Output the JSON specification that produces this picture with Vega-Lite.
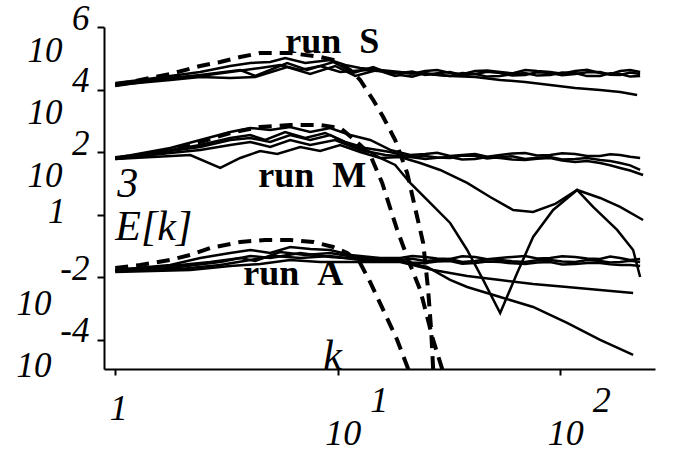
{
  "$schema": "https://vega.github.io/schema/vega-lite/v6.json",
  "width": 551,
  "height": 342,
  "autosize": {"type": "none"},
  "padding": {"left": 104, "top": 27, "right": 18, "bottom": 82},
  "background": "white",
  "config": {
    "view": {"stroke": null},
    "axis": {"grid": false, "labelFont": "Liberation Serif", "labelFontStyle": "italic", "labelColor": "black", "domainColor": "black", "tickColor": "black", "labelOverlap": false, "labelFlush": false, "labelBound": false}
  },
  "datasets": {
    "solid": [
      {"s":"S1","k":1.0,"E":1.62e4},{"s":"S1","k":1.295,"E":2.03e4},{"s":"S1","k":1.767,"E":2.72e4},{"s":"S1","k":2.41,"E":3.65e4},{"s":"S1","k":3.287,"E":5.68e4},{"s":"S1","k":4.044,"E":7.08e4},{"s":"S1","k":4.973,"E":7.62e4},{"s":"S1","k":5.808,"E":1.022e5},{"s":"S1","k":7.143,"E":7.08e4},{"s":"S1","k":9.254,"E":8.82e4},{"s":"S1","k":10.81,"E":6.11e4},{"s":"S1","k":12.62,"E":4.9e4},{"s":"S1","k":15.52,"E":4.23e4},{"s":"S1","k":19.1,"E":3.65e4},{"s":"S1","k":24.74,"E":3.93e4},{"s":"S1","k":32.03,"E":3.39e4},{"s":"S1","k":41.5,"E":3.93e4},{"s":"S1","k":53.75,"E":3.65e4},{"s":"S1","k":69.6,"E":4.23e4},{"s":"S1","k":90.2,"E":3.65e4},{"s":"S1","k":116.8,"E":3.93e4},{"s":"S1","k":151.3,"E":3.39e4},{"s":"S1","k":186.1,"E":3.93e4},{"s":"S1","k":228.9,"E":3.65e4},
      {"s":"S1","k":21.62,"E":3.2e4},{"s":"S1","k":28.0,"E":4.2e4},{"s":"S1","k":36.27,"E":3.1e4},{"s":"S1","k":46.98,"E":4.1e4},{"s":"S1","k":60.85,"E":3.3e4},{"s":"S1","k":78.8,"E":3.9e4},{"s":"S1","k":102.1,"E":3.2e4},{"s":"S1","k":132.2,"E":4.3e4},{"s":"S1","k":167.8,"E":3.1e4},{"s":"S1","k":206.4,"E":4.2e4},
      {"s":"S2","k":1.0,"E":1.4e4},{"s":"S2","k":1.767,"E":2.35e4},{"s":"S2","k":2.41,"E":2.93e4},{"s":"S2","k":3.646,"E":4.23e4},{"s":"S2","k":4.258,"E":2.72e4},{"s":"S2","k":5.929,"E":7.08e4},{"s":"S2","k":7.293,"E":4.23e4},{"s":"S2","k":9.546,"E":7.62e4},{"s":"S2","k":11.74,"E":3.39e4},{"s":"S2","k":14.44,"E":5.27e4},{"s":"S2","k":17.22,"E":3.15e4},{"s":"S2","k":19.1,"E":3.39e4},{"s":"S2","k":24.74,"E":2.93e4},{"s":"S2","k":32.03,"E":3.65e4},{"s":"S2","k":41.5,"E":3.15e4},{"s":"S2","k":53.75,"E":3.39e4},{"s":"S2","k":69.6,"E":2.93e4},{"s":"S2","k":90.2,"E":3.39e4},{"s":"S2","k":116.8,"E":3.15e4},{"s":"S2","k":151.3,"E":3.65e4},{"s":"S2","k":186.1,"E":2.93e4},{"s":"S2","k":228.9,"E":3.15e4},
      {"s":"S2","k":21.62,"E":3.8e4},{"s":"S2","k":28.0,"E":3.3e4},{"s":"S2","k":36.27,"E":2.9e4},{"s":"S2","k":46.98,"E":3.7e4},{"s":"S2","k":60.85,"E":2.8e4},{"s":"S2","k":78.8,"E":3.6e4},{"s":"S2","k":102.1,"E":2.9e4},{"s":"S2","k":132.2,"E":3.6e4},{"s":"S2","k":167.8,"E":3.0e4},{"s":"S2","k":206.4,"E":3.5e4},
      {"s":"S3","k":1.0,"E":1.4e4},{"s":"S3","k":1.767,"E":2.03e4},{"s":"S3","k":2.41,"E":2.53e4},{"s":"S3","k":3.287,"E":2.35e4},{"s":"S3","k":4.258,"E":2.53e4},{"s":"S3","k":5.929,"E":5.27e4},{"s":"S3","k":7.523,"E":3.15e4},{"s":"S3","k":9.745,"E":5.68e4},{"s":"S3","k":11.98,"E":2.72e4},{"s":"S3","k":15.05,"E":4.23e4},{"s":"S3","k":18.13,"E":2.72e4},{"s":"S3","k":19.1,"E":2.93e4},{"s":"S3","k":24.74,"E":3.39e4},{"s":"S3","k":32.03,"E":2.72e4},{"s":"S3","k":41.5,"E":3.15e4},{"s":"S3","k":53.75,"E":2.72e4},{"s":"S3","k":69.6,"E":3.39e4},{"s":"S3","k":90.2,"E":2.93e4},{"s":"S3","k":116.8,"E":3.39e4},{"s":"S3","k":151.3,"E":2.72e4},{"s":"S3","k":186.1,"E":3.15e4},{"s":"S3","k":228.9,"E":2.72e4},
      {"s":"S3","k":21.62,"E":2.6e4},{"s":"S3","k":28.0,"E":3.0e4},{"s":"S3","k":36.27,"E":3.4e4},{"s":"S3","k":46.98,"E":2.6e4},{"s":"S3","k":60.85,"E":3.1e4},{"s":"S3","k":78.8,"E":2.8e4},{"s":"S3","k":102.1,"E":3.5e4},{"s":"S3","k":132.2,"E":2.7e4},{"s":"S3","k":167.8,"E":3.3e4},{"s":"S3","k":206.4,"E":2.6e4},
      {"s":"S4","k":1.0,"E":1.3e4},{"s":"S4","k":1.767,"E":2.35e4},{"s":"S4","k":2.41,"E":2.72e4},{"s":"S4","k":3.287,"E":3.65e4},{"s":"S4","k":4.484,"E":4.9e4},{"s":"S4","k":5.515,"E":6.11e4},{"s":"S4","k":6.785,"E":4.23e4},{"s":"S4","k":8.345,"E":5.68e4},{"s":"S4","k":10.26,"E":3.65e4},{"s":"S4","k":13.29,"E":4.23e4},{"s":"S4","k":17.22,"E":3.65e4},{"s":"S4","k":24.74,"E":3.15e4},{"s":"S4","k":32.03,"E":2.72e4},{"s":"S4","k":41.5,"E":2.53e4},{"s":"S4","k":53.75,"E":2.03e4},{"s":"S4","k":69.6,"E":1.75e4},{"s":"S4","k":90.2,"E":1.4e4},{"s":"S4","k":116.8,"E":1.125e4},{"s":"S4","k":151.3,"E":9.71e3},{"s":"S4","k":186.1,"E":8.38e3},{"s":"S4","k":221.9,"E":6.72e3},
      {"s":"M1","k":1.0,"E":65.3},{"s":"M1","k":1.767,"E":136},{"s":"M1","k":2.41,"E":245},{"s":"M1","k":3.287,"E":442},{"s":"M1","k":4.044,"E":593},{"s":"M1","k":4.973,"E":512},{"s":"M1","k":6.115,"E":639},{"s":"M1","k":7.523,"E":442},{"s":"M1","k":9.254,"E":593},{"s":"M1","k":11.38,"E":354},{"s":"M1","k":14.0,"E":245},{"s":"M1","k":17.22,"E":118},{"s":"M1","k":21.18,"E":81.4},{"s":"M1","k":24.74,"E":87.6},{"s":"M1","k":32.03,"E":75.6},{"s":"M1","k":41.5,"E":87.6},{"s":"M1","k":53.75,"E":81.4},{"s":"M1","k":69.6,"E":94.3},{"s":"M1","k":90.2,"E":81.4},{"s":"M1","k":116.8,"E":87.6},{"s":"M1","k":151.3,"E":75.6},{"s":"M1","k":186.1,"E":81.4},{"s":"M1","k":228.9,"E":65.3},
      {"s":"M1","k":28.0,"E":95},{"s":"M1","k":36.27,"E":82},{"s":"M1","k":46.98,"E":72},{"s":"M1","k":60.85,"E":90},{"s":"M1","k":78.8,"E":78},{"s":"M1","k":102.1,"E":92},{"s":"M1","k":132.2,"E":76},{"s":"M1","k":167.8,"E":86},{"s":"M1","k":206.4,"E":72},
      {"s":"M2","k":1.0,"E":65.3},{"s":"M2","k":1.767,"E":118},{"s":"M2","k":2.41,"E":170},{"s":"M2","k":3.287,"E":284},{"s":"M2","k":4.044,"E":354},{"s":"M2","k":4.722,"E":245},{"s":"M2","k":5.808,"E":442},{"s":"M2","k":7.143,"E":284},{"s":"M2","k":8.786,"E":411},{"s":"M2","k":10.81,"E":212},{"s":"M2","k":13.29,"E":136},{"s":"M2","k":17.22,"E":101.5},{"s":"M2","k":21.18,"E":70.2},{"s":"M2","k":24.74,"E":75.6},{"s":"M2","k":32.03,"E":65.3},{"s":"M2","k":41.5,"E":75.6},{"s":"M2","k":53.75,"E":70.2},{"s":"M2","k":69.6,"E":60.6},{"s":"M2","k":90.2,"E":70.2},{"s":"M2","k":116.8,"E":60.6},{"s":"M2","k":151.3,"E":56.3},{"s":"M2","k":186.1,"E":45.2},{"s":"M2","k":228.9,"E":27.0},
      {"s":"M2","k":28.0,"E":68},{"s":"M2","k":36.27,"E":78},{"s":"M2","k":46.98,"E":63},{"s":"M2","k":60.85,"E":74},{"s":"M2","k":78.8,"E":66},{"s":"M2","k":102.1,"E":58},{"s":"M2","k":132.2,"E":65},{"s":"M2","k":167.8,"E":52},{"s":"M2","k":206.4,"E":38},
      {"s":"M3","k":1.0,"E":60.6},{"s":"M3","k":1.767,"E":94.3},{"s":"M3","k":2.41,"E":118},{"s":"M3","k":3.287,"E":170},{"s":"M3","k":4.044,"E":212},{"s":"M3","k":4.973,"E":147},{"s":"M3","k":6.115,"E":245},{"s":"M3","k":7.523,"E":170},{"s":"M3","k":9.745,"E":245},{"s":"M3","k":12.62,"E":118},{"s":"M3","k":16.35,"E":81.4},{"s":"M3","k":21.18,"E":70.2},{"s":"M3","k":24.74,"E":60.6},{"s":"M3","k":32.03,"E":70.2},{"s":"M3","k":41.5,"E":60.6},{"s":"M3","k":53.75,"E":65.3},{"s":"M3","k":69.6,"E":56.3},{"s":"M3","k":90.2,"E":65.3},{"s":"M3","k":116.8,"E":48.6},{"s":"M3","k":151.3,"E":45.2},{"s":"M3","k":186.1,"E":31.3},{"s":"M3","k":236.0,"E":18.7},
      {"s":"M3","k":28.0,"E":66},{"s":"M3","k":36.27,"E":58},{"s":"M3","k":46.98,"E":70},{"s":"M3","k":60.85,"E":58},{"s":"M3","k":78.8,"E":62},{"s":"M3","k":102.1,"E":54},{"s":"M3","k":132.2,"E":52},{"s":"M3","k":167.8,"E":38},{"s":"M3","k":206.4,"E":26},
      {"s":"M4","k":1.0,"E":60.6},{"s":"M4","k":2.174,"E":81.4},{"s":"M4","k":2.965,"E":31.3},{"s":"M4","k":3.646,"E":65.3},{"s":"M4","k":4.484,"E":109},{"s":"M4","k":5.347,"E":87.6},{"s":"M4","k":6.785,"E":147},{"s":"M4","k":8.345,"E":109},{"s":"M4","k":10.26,"E":170},{"s":"M4","k":12.62,"E":101.5},{"s":"M4","k":15.52,"E":65.3},{"s":"M4","k":19.1,"E":70.2},{"s":"M4","k":23.49,"E":45.2},{"s":"M4","k":28.88,"E":27.0},{"s":"M4","k":38.2,"E":10.4},{"s":"M4","k":48.47,"E":3.7},{"s":"M4","k":61.5,"E":1.423},{"s":"M4","k":75.6,"E":1.229},{"s":"M4","k":94.95,"E":2.21},{"s":"M4","k":119.2,"E":6.2},{"s":"M4","k":151.3,"E":3.44},{"s":"M4","k":186.1,"E":1.775},{"s":"M4","k":236.0,"E":0.682},
      {"s":"M5","k":1.0,"E":65.3},{"s":"M5","k":1.767,"E":109},{"s":"M5","k":2.41,"E":147},{"s":"M5","k":3.287,"E":245},{"s":"M5","k":4.044,"E":284},{"s":"M5","k":4.973,"E":212},{"s":"M5","k":6.115,"E":354},{"s":"M5","k":7.523,"E":245},{"s":"M5","k":9.254,"E":354},{"s":"M5","k":11.38,"E":170},{"s":"M5","k":14.0,"E":101.5},{"s":"M5","k":15.52,"E":65.3},{"s":"M5","k":18.13,"E":39.0},{"s":"M5","k":21.18,"E":10.4},{"s":"M5","k":26.04,"E":2.38},{"s":"M5","k":32.03,"E":0.547},{"s":"M5","k":38.2,"E":0.075},{"s":"M5","k":45.08,"E":8.26e-3},{"s":"M5","k":53.75,"E":7.29e-4},{"s":"M5","k":64.1,"E":0.01382},{"s":"M5","k":75.6,"E":0.1953},{"s":"M5","k":93.0,"E":1.423},{"s":"M5","k":119.2,"E":6.2},{"s":"M5","k":140.7,"E":1.775},{"s":"M5","k":180.4,"E":0.327},{"s":"M5","k":212.9,"E":0.075},{"s":"M5","k":228.9,"E":0.0103},
      {"s":"A1","k":1.0,"E":0.01723},{"s":"A1","k":1.767,"E":0.0249},{"s":"A1","k":2.41,"E":0.0417},{"s":"A1","k":3.287,"E":0.0602},{"s":"A1","k":4.044,"E":0.075},{"s":"A1","k":4.973,"E":0.0602},{"s":"A1","k":6.115,"E":0.0936},{"s":"A1","k":7.523,"E":0.0808},{"s":"A1","k":9.254,"E":0.075},{"s":"A1","k":11.38,"E":0.0519},{"s":"A1","k":15.52,"E":0.0417},{"s":"A1","k":19.1,"E":0.0417},{"s":"A1","k":24.74,"E":0.0448},{"s":"A1","k":32.03,"E":0.0387},{"s":"A1","k":41.5,"E":0.0448},{"s":"A1","k":53.75,"E":0.0417},{"s":"A1","k":69.6,"E":0.0483},{"s":"A1","k":90.2,"E":0.0417},{"s":"A1","k":116.8,"E":0.0448},{"s":"A1","k":151.3,"E":0.0387},{"s":"A1","k":186.1,"E":0.0417},{"s":"A1","k":228.9,"E":0.0387},
      {"s":"A1","k":21.62,"E":0.048},{"s":"A1","k":28.0,"E":0.040},{"s":"A1","k":36.27,"E":0.047},{"s":"A1","k":46.98,"E":0.038},{"s":"A1","k":60.85,"E":0.045},{"s":"A1","k":78.8,"E":0.040},{"s":"A1","k":102.1,"E":0.047},{"s":"A1","k":132.2,"E":0.040},{"s":"A1","k":167.8,"E":0.046},{"s":"A1","k":206.4,"E":0.036},
      {"s":"A2","k":1.0,"E":0.01723},{"s":"A2","k":1.767,"E":0.0231},{"s":"A2","k":2.673,"E":0.031},{"s":"A2","k":3.646,"E":0.0417},{"s":"A2","k":4.258,"E":0.0334},{"s":"A2","k":5.515,"E":0.0648},{"s":"A2","k":7.143,"E":0.0519},{"s":"A2","k":9.254,"E":0.0602},{"s":"A2","k":12.62,"E":0.0417},{"s":"A2","k":19.1,"E":0.036},{"s":"A2","k":24.74,"E":0.0334},{"s":"A2","k":32.03,"E":0.0387},{"s":"A2","k":41.5,"E":0.0334},{"s":"A2","k":53.75,"E":0.036},{"s":"A2","k":69.6,"E":0.031},{"s":"A2","k":90.2,"E":0.036},{"s":"A2","k":116.8,"E":0.031},{"s":"A2","k":151.3,"E":0.0334},{"s":"A2","k":186.1,"E":0.031},{"s":"A2","k":228.9,"E":0.031},
      {"s":"A2","k":21.62,"E":0.039},{"s":"A2","k":28.0,"E":0.036},{"s":"A2","k":36.27,"E":0.031},{"s":"A2","k":46.98,"E":0.038},{"s":"A2","k":60.85,"E":0.033},{"s":"A2","k":78.8,"E":0.035},{"s":"A2","k":102.1,"E":0.032},{"s":"A2","k":132.2,"E":0.036},{"s":"A2","k":167.8,"E":0.030},{"s":"A2","k":206.4,"E":0.034},
      {"s":"A3","k":1.0,"E":0.01602},{"s":"A3","k":1.96,"E":0.01855},{"s":"A3","k":2.965,"E":0.0249},{"s":"A3","k":4.044,"E":0.036},{"s":"A3","k":5.237,"E":0.0483},{"s":"A3","k":6.785,"E":0.0417},{"s":"A3","k":9.254,"E":0.0483},{"s":"A3","k":12.62,"E":0.036},{"s":"A3","k":19.1,"E":0.0334},{"s":"A3","k":24.74,"E":0.0288},{"s":"A3","k":32.03,"E":0.0334},{"s":"A3","k":41.5,"E":0.0288},{"s":"A3","k":53.75,"E":0.031},{"s":"A3","k":69.6,"E":0.0268},{"s":"A3","k":90.2,"E":0.031},{"s":"A3","k":116.8,"E":0.0268},{"s":"A3","k":151.3,"E":0.0288},{"s":"A3","k":186.1,"E":0.0249},{"s":"A3","k":228.9,"E":0.0231},
      {"s":"A3","k":21.62,"E":0.030},{"s":"A3","k":28.0,"E":0.032},{"s":"A3","k":36.27,"E":0.027},{"s":"A3","k":46.98,"E":0.032},{"s":"A3","k":60.85,"E":0.028},{"s":"A3","k":78.8,"E":0.030},{"s":"A3","k":102.1,"E":0.026},{"s":"A3","k":132.2,"E":0.029},{"s":"A3","k":167.8,"E":0.026},{"s":"A3","k":206.4,"E":0.025},
      {"s":"A4","k":1.0,"E":0.01488},{"s":"A4","k":2.174,"E":0.01723},{"s":"A4","k":3.287,"E":0.0231},{"s":"A4","k":4.484,"E":0.0268},{"s":"A4","k":6.115,"E":0.036},{"s":"A4","k":8.345,"E":0.031},{"s":"A4","k":11.38,"E":0.031},{"s":"A4","k":19.1,"E":0.031},{"s":"A4","k":26.86,"E":0.01723},{"s":"A4","k":38.2,"E":0.01108},{"s":"A4","k":53.75,"E":8.26e-3},{"s":"A4","k":75.6,"E":6.15e-3},{"s":"A4","k":107.5,"E":4.94e-3},{"s":"A4","k":151.3,"E":3.96e-3},{"s":"A4","k":212.9,"E":3.17e-3},
      {"s":"A5","k":1.0,"E":0.01602},{"s":"A5","k":1.767,"E":0.02},{"s":"A5","k":2.965,"E":0.031},{"s":"A5","k":4.044,"E":0.0483},{"s":"A5","k":4.973,"E":0.0417},{"s":"A5","k":6.785,"E":0.0602},{"s":"A5","k":9.254,"E":0.0448},{"s":"A5","k":12.62,"E":0.0387},{"s":"A5","k":19.1,"E":0.0334},{"s":"A5","k":25.25,"E":0.0215},{"s":"A5","k":32.03,"E":8.26e-3},{"s":"A5","k":38.2,"E":4.94e-3},{"s":"A5","k":53.75,"E":2.36e-3},{"s":"A5","k":75.6,"E":1.133e-3},{"s":"A5","k":107.5,"E":3.49e-4},{"s":"A5","k":151.3,"E":1.0e-4},{"s":"A5","k":212.9,"E":3.32e-5}
    ],
    "dashed": [
      {"s":"S","k":1.0,"E":1.4e4},{"s":"S","k":1.295,"E":2.03e4},{"s":"S","k":1.767,"E":3.15e4},{"s":"S","k":2.41,"E":5.68e4},{"s":"S","k":2.965,"E":7.62e4},{"s":"S","k":3.646,"E":1.1e5},{"s":"S","k":4.484,"E":1.477e5},{"s":"S","k":6.115,"E":1.477e5},{"s":"S","k":8.345,"E":1.1e5},{"s":"S","k":9.546,"E":8.82e4},{"s":"S","k":11.38,"E":4.23e4},{"s":"S","k":12.62,"E":2.03e4},{"s":"S","k":14.44,"E":4.65e3},{"s":"S","k":16.02,"E":1.33e3},{"s":"S","k":18.13,"E":245},{"s":"S","k":20.53,"E":21.6},{"s":"S","k":22.77,"E":0.851},{"s":"S","k":24.23,"E":0.1256},{"s":"S","k":25.51,"E":3.96e-3},{"s":"S","k":26.31,"E":2.09e-4},{"s":"S","k":26.86,"E":1.18e-5},{"s":"S","k":27.15,"E":5.27e-6},
      {"s":"M","k":1.0,"E":65.3},{"s":"M","k":1.295,"E":81.4},{"s":"M","k":1.767,"E":118},{"s":"M","k":2.41,"E":212},{"s":"M","k":3.287,"E":411},{"s":"M","k":4.484,"E":639},{"s":"M","k":6.115,"E":740},{"s":"M","k":8.345,"E":740},{"s":"M","k":10.26,"E":593},{"s":"M","k":10.81,"E":442},{"s":"M","k":12.62,"E":170},{"s":"M","k":14.0,"E":81.4},{"s":"M","k":15.85,"E":10.4},{"s":"M","k":18.51,"E":0.327},{"s":"M","k":21.18,"E":0.0249},{"s":"M","k":23.49,"E":3.96e-3},{"s":"M","k":26.86,"E":1.0e-4},{"s":"M","k":29.49,"E":1.18e-5},{"s":"M","k":29.8,"E":5.27e-6},
      {"s":"A","k":1.0,"E":0.02},{"s":"A","k":1.295,"E":0.0249},{"s":"A","k":1.767,"E":0.036},{"s":"A","k":2.174,"E":0.0519},{"s":"A","k":2.673,"E":0.087},{"s":"A","k":3.646,"E":0.1352},{"s":"A","k":4.722,"E":0.1566},{"s":"A","k":6.115,"E":0.1566},{"s":"A","k":7.762,"E":0.1352},{"s":"A","k":9.546,"E":0.0936},{"s":"A","k":11.03,"E":0.0602},{"s":"A","k":12.62,"E":0.0288},{"s":"A","k":14.0,"E":7.0e-3},{"s":"A","k":16.02,"E":9.09e-4},{"s":"A","k":18.51,"E":1.0e-4},{"s":"A","k":20.75,"E":1.18e-5},{"s":"A","k":21.18,"E":5.27e-6}
    ],
    "runlabels": [
      {"k":5.808,"E":1.477e5,"t":"run\u00a0\u00a0S"},
      {"k":4.393,"E":7.73,"t":"run\u00a0\u00a0M"},
      {"k":3.761,"E":5.72e-3,"t":"run\u00a0\u00a0A"}
    ],
    "symbols": [
      {"k":1.02,"E":3.7,"t":"3"},
      {"k":1.0,"E":0.1566,"t":"E[k]"},
      {"k":8.61,"E":1.18e-5,"t":"k"}
    ]
  },
  "resolve": {"axis": {"x": "independent", "y": "independent"}},
  "layer": [
    {
      "data": {"name": "solid"},
      "mark": {"type": "line", "color": "black", "strokeWidth": 2.5, "clip": true},
      "encoding": {
        "x": {"field": "k", "type": "quantitative", "scale": {"type": "log", "domain": [0.89, 267], "nice": false},
          "axis": {"orient": "bottom", "title": null, "values": [1, 10, 100], "domainWidth": 2, "tickWidth": 2, "tickSize": 6, "labelFontSize": 36, "labelAlign": "center", "labelBaseline": "alphabetic",
            "labelExpr": "datum.value == 1 ? '1' : '' + round(log(datum.value)/LN10)",
            "labelOffset": {"condition": {"test": "datum.value == 1", "value": 3}, "value": 41},
            "labelPadding": {"condition": {"test": "datum.value == 1", "value": 44}, "value": 36}}},
        "y": {"field": "E", "type": "quantitative", "scale": {"type": "log", "domain": [1.18e-5, 1e6], "nice": false},
          "axis": {"orient": "left", "title": null, "values": [1e-4, 1e-2, 1, 100, 1e4, 1e6], "domainWidth": 2, "tickWidth": 2, "tickSize": 7, "labelFontSize": 35, "labelAlign": "right", "labelBaseline": "alphabetic", "labelPadding": 8, "labelOffset": 2,
            "labelExpr": "datum.value == 1 ? '' : '' + round(log(datum.value)/LN10)"}},
        "detail": {"field": "s"}
      }
    },
    {
      "data": {"name": "dashed"},
      "mark": {"type": "line", "color": "black", "strokeWidth": 4, "strokeDash": [13, 8], "clip": true},
      "encoding": {
        "x": {"field": "k", "type": "quantitative", "scale": {"type": "log", "domain": [0.89, 267], "nice": false},
          "axis": {"orient": "bottom", "title": null, "values": [1, 10, 100], "domain": false, "tickOpacity": 0, "tickSize": 6, "labelFontSize": 36, "labelAlign": "center", "labelBaseline": "alphabetic",
            "labelExpr": "datum.value == 1 ? '' : '10'", "labelOffset": 5, "labelPadding": 69}},
        "y": {"field": "E", "type": "quantitative", "scale": {"type": "log", "domain": [1.18e-5, 1e6], "nice": false},
          "axis": {"orient": "left", "title": null, "values": [1e-4, 1e-2, 1, 100, 1e4, 1e6], "domain": false, "tickOpacity": 0, "tickSize": 7, "labelFontSize": 35, "labelAlign": "right", "labelBaseline": "alphabetic",
            "labelExpr": "datum.value == 1 ? '1' : '10'",
            "labelPadding": {"condition": [{"test": "datum.value == 1", "value": 32}, {"test": "datum.value < 0.5", "value": 46}], "value": 35},
            "labelOffset": {"condition": [{"test": "datum.value == 1", "value": 8}, {"test": "datum.value < 0.5", "value": 37}], "value": 34}}},
        "detail": {"field": "s"}
      }
    },
    {
      "data": {"name": "runlabels"},
      "mark": {"type": "text", "font": "Liberation Serif", "fontWeight": "bold", "fontSize": 36, "align": "left", "baseline": "alphabetic", "color": "black"},
      "encoding": {
        "x": {"field": "k", "type": "quantitative", "scale": {"type": "log", "domain": [0.89, 267], "nice": false}, "axis": null},
        "y": {"field": "E", "type": "quantitative", "scale": {"type": "log", "domain": [1.18e-5, 1e6], "nice": false}, "axis": null},
        "text": {"field": "t"}
      }
    },
    {
      "data": {"name": "symbols"},
      "mark": {"type": "text", "font": "Liberation Serif", "fontStyle": "italic", "fontSize": 42, "align": "left", "baseline": "alphabetic", "color": "black"},
      "encoding": {
        "x": {"field": "k", "type": "quantitative", "scale": {"type": "log", "domain": [0.89, 267], "nice": false}, "axis": null},
        "y": {"field": "E", "type": "quantitative", "scale": {"type": "log", "domain": [1.18e-5, 1e6], "nice": false}, "axis": null},
        "text": {"field": "t"}
      }
    }
  ]
}
